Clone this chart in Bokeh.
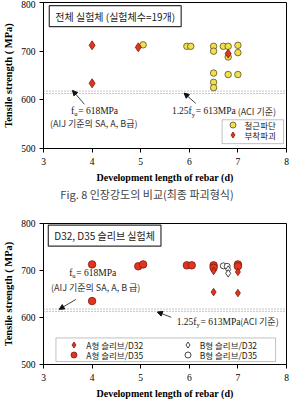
from bokeh.plotting import figure
from bokeh.models import (Range1d, FixedTicker, Span, Arrow, NormalHead, Label,
                          Legend, LegendItem, BoxAnnotation, Div)
from bokeh.layouts import column
from bokeh.embed import file_html
from bokeh.resources import INLINE

# ---- data: development length (d) vs. tensile strength (MPa) ----
# all specimens, by final failure mode
bar_fracture_x = [5.05, 5.95, 6.03, 6.5, 6.5, 6.5, 6.5, 6.5, 6.7, 6.8, 6.8, 6.8, 7.0, 7.0, 7.0]
bar_fracture_y = [713, 710, 710, 710, 700, 655, 636, 625, 710, 710, 688, 652, 712, 697, 652]
bond_failure_x = [4.0, 4.0, 4.95, 6.8]
bond_failure_y = [712, 634, 708, 695]

# D32 / D35 sleeve specimens
a_d32_x = [6.5, 6.5, 7.0, 7.0]
a_d32_y = [699, 654, 697, 652]
a_d35_x = [4.0, 4.0, 4.95, 5.05, 5.95, 6.05, 6.5, 6.5, 7.0, 7.0]
a_d35_y = [713, 635, 709, 713, 711, 711, 711, 706, 713, 709]
b_d32_x = [6.8, 6.8]
b_d32_y = [702, 694]
b_d35_x = [6.7, 6.78]
b_d35_y = [710, 709]

# reference strengths
fu_aij = 618   # f_u, AIJ SA/A/B grade
fy_aci = 613   # 1.25 f_y, ACI

x_ticks = [3, 4, 5, 6, 7, 8]
y_ticks = [500, 600, 700, 800]

SERIF = "Liberation Serif"
KR = "Noto Sans CJK KR"
YELLOW, YELLOW_EDGE = "#f1df4c", "#5a5024"
RED, RED_EDGE = "#e2351f", "#7e1a0e"


def base_fig(height, border_top, border_bottom, border_right):
    p = figure(width=294, height=height, x_range=Range1d(3, 8), y_range=Range1d(500, 800),
               output_backend="svg", toolbar_location=None, title=None,
               min_border_left=41, min_border_right=border_right,
               min_border_top=border_top, min_border_bottom=border_bottom)
    p.grid.visible = False
    p.outline_line_color = "black"
    p.outline_line_width = 1
    for ax in (p.xaxis[0], p.yaxis[0]):
        ax.axis_line_color = "black"
        ax.major_tick_line_color = "black"
        ax.major_tick_out = 4
        ax.major_tick_in = 0
        ax.minor_tick_line_color = None
        ax.major_label_text_font = SERIF
        ax.major_label_text_font_size = "9.5px"
        ax.major_label_text_color = "black"
        ax.major_label_standoff = 5
        ax.axis_label_text_font = SERIF
        ax.axis_label_text_font_style = "bold"
        ax.axis_label_text_color = "black"
        ax.axis_label_standoff = 4
    p.yaxis[0].major_label_standoff = 4
    p.xaxis[0].ticker = FixedTicker(ticks=x_ticks)
    p.yaxis[0].ticker = FixedTicker(ticks=y_ticks)
    p.xaxis[0].axis_label = "Development length of rebar (d)"
    p.xaxis[0].axis_label_text_font_size = "10px"
    p.yaxis[0].axis_label = "Tensile strength ( MPa)"
    p.yaxis[0].axis_label_text_font_size = "10.5px"
    for v in (fu_aij, fy_aci):
        p.add_layout(Span(location=v, dimension="width", line_color="#8c8c8c",
                          line_dash="1 2", line_width=1))
    return p


def sub_text(p, x, y, pre, sub, post, size=9.5):
    """Serif text with a subscript, e.g. f_u = 618MPa; (x, y) is the end of the subscript."""
    common = dict(x=x, y=y, text_font=SERIF, text_baseline="middle", text_color="#151515")
    p.add_layout(Label(text=pre, text_align="right", x_offset=-4,
                       text_font_size=f"{size}px", **common))
    p.add_layout(Label(text=sub, text_align="left", x_offset=-4, y_offset=-3,
                       text_font_size="6.5px", **common))
    p.add_layout(Label(text=post, text_align="left", text_font_size=f"{size}px", **common))


def kr_text(p, x, y, text, align="center", size=9):
    p.add_layout(Label(x=x, y=y, text=text, text_align=align, text_baseline="middle",
                       text_font=KR, text_font_size=f"{size}px", text_color="#333"))


def arrow(p, xs, ys, xe, ye):
    p.add_layout(Arrow(end=NormalHead(size=5, fill_color="#111", line_color="#111"),
                       x_start=xs, y_start=ys, x_end=xe, y_end=ye,
                       line_color="#111", line_width=0.8))


def title_box(p, x, y, text):
    p.add_layout(Label(x=x, y=y, text=text, text_align="center", text_baseline="middle",
                       text_font=KR, text_font_size="10px", text_color="#222",
                       border_line_color="#333", border_line_width=1.2,
                       background_fill_color="white",
                       padding=dict(left=6, right=6, top=3, bottom=3)))


def legend_entry(p, renderer, label, loc):
    """One legend row; loc = (x, y) of its bottom-left corner, px from the frame's bottom-left."""
    p.add_layout(Legend(items=[LegendItem(label=label, renderers=[renderer])],
                        location=loc, glyph_width=15, glyph_height=15, spacing=0,
                        padding=0, margin=0, label_standoff=5, label_height=15,
                        label_text_font=KR, label_text_font_size="8.5px",
                        label_text_color="#222", label_text_baseline="middle",
                        border_line_alpha=0, background_fill_alpha=0))


# ---- chart 1: all specimens ----
p1 = base_fig(186, 2, 38, 4)
r_bar = p1.scatter(bar_fracture_x, bar_fracture_y, marker="circle", size=6.5,
                   fill_color=YELLOW, line_color=YELLOW_EDGE, line_width=0.8)
r_bond = p1.scatter(bond_failure_x, bond_failure_y, marker="diamond", size=9,
                    fill_color=RED, line_color=RED_EDGE, line_width=0.8)

title_box(p1, 4.476, 772, "전체 실험체 (실험체수=19개)")
sub_text(p1, 3.713, 578, "f", "u", " = 618MPa")
kr_text(p1, 4.034, 552, "(AIJ 기준의 SA, A, B급)")
sub_text(p1, 6.133, 577, "1.25f", "y", " = 613MPa")
kr_text(p1, 6.996, 577, "(ACI 기준)", align="left")
arrow(p1, 3.843, 590.7, 3.596, 619.4)
arrow(p1, 6.133, 592.7, 5.892, 613.8)

p1.add_layout(BoxAnnotation(left=6.675, right=7.94, bottom=510, top=559,
                            fill_color="white", fill_alpha=1,
                            line_color="#333", line_width=1))
legend_entry(p1, r_bar, "철근파단", (181.5, 16.0))
legend_entry(p1, r_bond, "부착파괴", (181.5, 6.0))

# ---- caption ----
caption = Div(text="Fig. 8 인장강도의 비교(최종 파괴형식)", width=294, height=16,
              margin=(0, 0, 0, 0),
              styles={"font-family": "'Noto Sans CJK KR'", "font-size": "11px",
                      "color": "#444", "text-align": "center", "line-height": "16px",
                      "white-space": "nowrap"})

# ---- chart 2: D32 / D35 sleeve specimens ----
p2 = base_fig(199, 21, 34, 8)
r_a35 = p2.scatter(a_d35_x, a_d35_y, marker="circle", size=7.5,
                   fill_color=RED, line_color=RED_EDGE, line_width=0.8)
r_a32 = p2.scatter(a_d32_x, a_d32_y, marker="diamond", size=7.5,
                   fill_color=RED, line_color=RED_EDGE, line_width=0.8)
r_b35 = p2.scatter(b_d35_x, b_d35_y, marker="circle", size=6,
                   fill_color="white", line_color="#333", line_width=0.9)
r_b32 = p2.scatter(b_d32_x, b_d32_y, marker="diamond", size=7.5,
                   fill_color="white", line_color="#333", line_width=0.9)

title_box(p2, 4.258, 774, "D32, D35 슬리브 실험체")
sub_text(p2, 3.675, 695, "f", "u", " = 618MPa")
kr_text(p2, 4.074, 664, "(AIJ 기준의 SA, A, B 급)")
sub_text(p2, 6.231, 591, "1.25f", "y", " = 613MPa")
kr_text(p2, 7.049, 591, "(ACI 기준)", align="left")
arrow(p2, 3.665, 638.4, 3.323, 617.4)
arrow(p2, 5.628, 600.5, 5.342, 611.7)

p2.add_layout(BoxAnnotation(left=3.256, right=7.775, bottom=506.3, top=556.5,
                            fill_color="white", fill_alpha=1,
                            line_color="#333", line_width=1))
legend_entry(p2, r_a32, "A형 슬리브/D32", (23.3, 11.9))
legend_entry(p2, r_a35, "A형 슬리브/D35", (23.3, 1.9))
legend_entry(p2, r_b32, "B형 슬리브/D32", (136.7, 11.9))
legend_entry(p2, r_b35, "B형 슬리브/D35", (136.7, 1.9))

layout = column(p1, caption, p2)
open("out.html", "w").write(file_html(layout, INLINE))
